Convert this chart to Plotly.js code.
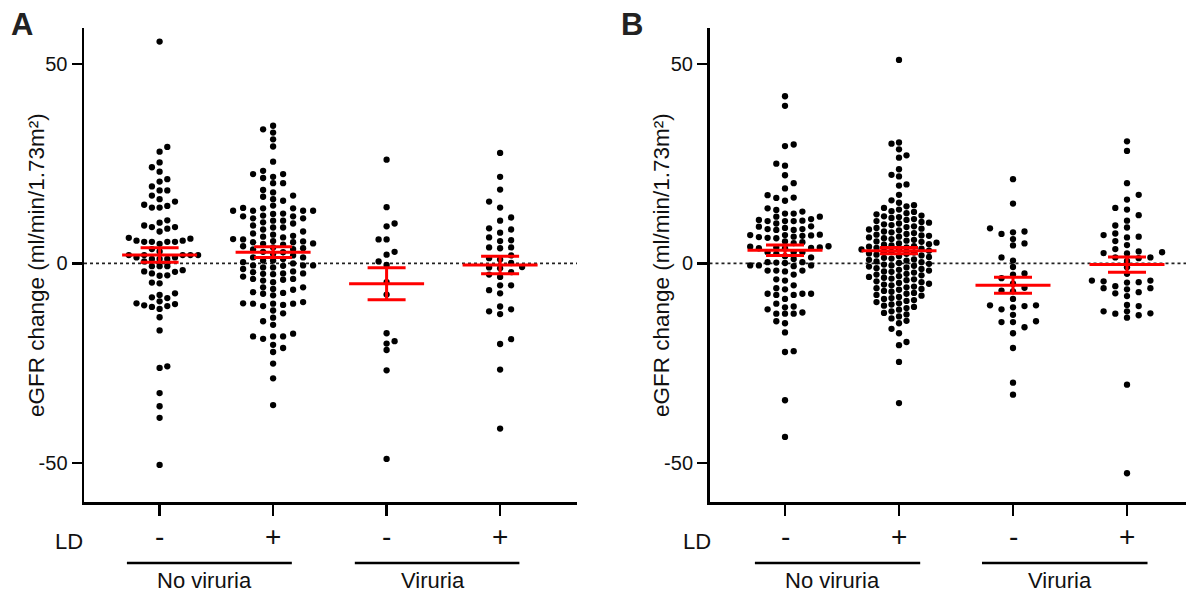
<!DOCTYPE html>
<html><head><meta charset="utf-8">
<script src="https://cdn.plot.ly/plotly-3.0.1.min.js"></script>
<style>html,body{margin:0;padding:0;background:#fff}#chart{width:1195px;height:596px}</style>
</head><body><div id="chart"></div>
<script>
// ---------- text ----------
const ldTicks = ['-', '+', '-', '+'];
const groupLabels = ['No viruria', 'Viruria'];
const panelLetters = ['A', 'B'];
const yTitle = 'eGFR change (ml/min/1.73m²)';
const yTickVals = [-50, 0, 50];
const yTickText = ['-50', '0', '50'];

// ---------- panel A data ----------
const A_noVir_LDneg = [55.6, 29.2, 28.0, 25.3, 24.1, 23.0, 21.1, 20.5, 19.3, 18.3, 18.3, 17.0, 16.1, 15.5, 14.7, 14.4, 14.0, 14.0,
  10.8, 10.2, 9.5, 9.1, 9.1, 8.7, 8.0, 6.4, 6.2, 5.7, 5.7, 5.4, 5.4, 5.4, 5.4, 4.9, 3.6, 3.0, 2.1, 2.1, 2.1, 2.1, 2.1,
  1.5, 1.5, 1.1, 1.1, 1.1, 0.5, -0.7, -0.7, -0.7, -1.7, -2.0, -2.1, -2.5, -3.0, -3.1, -4.8, -5.0, -7.5, -7.9, -8.5, -8.7,
  -9.5, -10.0, -10.2, -10.5, -10.7, -10.9, -11.4, -13.5, -16.8, -25.8, -26.2, -32.5, -35.8, -38.7, -50.5];
const A_noVir_LDpos = [13.2, 11.3, 6.0, 1.5, 0.0, -2.0, -3.9, -10.1,
  13.9, 12.4, 4.7, 2.9, -0.6, -2.2, -6.6, -10.1, -18.3,
  21.4, 17.0, 13.2, 11.8, 9.5, 8.0, 6.5, 5.3, 4.3, 2.8, 0.7, -1.0, -2.7, -4.7, -7.2, -10.1,
  33.6, 23.2, 21.7, 20.1, 18.4, 16.7, 13.2, 11.8, 10.0, 8.5, 6.7, 5.0, 3.6, 2.4, 0.7, -1.0, -2.6, -4.3, -7.4, -10.0, -12.5, -14.5, -18.3, -21.2,
  31.1, 29.3, 25.5, -25.1, -28.8, -35.5,
  34.5, 32.8, 22.4, 20.1, 15.7, 13.8, 12.0, 10.3, 9.0, 7.2, 5.5, 3.8, 2.0, -0.5, -2.5, -4.1, -6.0, -7.6, -9.7, -11.8, -13.6, -15.4, -18.9, -20.4, -22.2,
  22.4, 17.8, 16.1, 14.5, 12.5, 10.7, 9.0, 6.9, 5.3, 1.5, -0.5, -3.9, -6.4, -8.0, -10.7, -18.3,
  13.2, 11.3, 7.5, 6.1, 4.9, 3.5, 1.1, -0.5, -2.5, -6.0, -10.4, -17.6,
  13.8, 10.7, 5.6, 4.0, 0.3, -1.4, -3.3];
const A_vir_LDneg = [26.0, 14.1, 10.0, 9.3, 6.0, 6.0, 2.9, 2.2, 0.5, -0.4, -4.7, -7.8, -17.5, -19.5, -20.1, -21.7, -26.8, -49.0];
const A_vir_LDpos = [27.7, 21.7, 18.5, 15.5, 14.0, 11.5, 10.7, 8.8, 8.5, 7.7, 6.5, 5.8, 5.6, 4.0, 3.8, 4.0, 2.0, 1.0, 1.3, 0.1,
  -0.9, -1.0, -1.2, -2.2, -2.8, -3.4, -5.5, -5.5, -6.7, -7.5, -10.8, -11.5, -12.0, -12.7, -19.0, -20.2, -26.6, -41.4];
const A_mean = [2.1, 2.8, -5.1, -0.4];
const A_sem = [1.8, 1.35, 4.0, 2.2];

// ---------- panel B data ----------
const B_noVir_LDneg = [41.9, 39.5, 29.8, 29.4, 25.0, 24.5, 22.1, 20.1, 18.8, 17.1, 16.5, 16.4, 15.7, 13.8, 13.0, 13.4, 12.5, 12.5,
  11.7, 11.7, 10.6, 10.6, 11.1, 10.9, 10.7, 10.6, 10.0, 8.4, 8.6, 8.9, 9.2, 9.3, 8.6, 8.4, 7.1, 7.0, 6.6, 6.9, 7.1, 7.2, 6.4,
  6.7, 6.3, 5.5, 5.3, 5.1, 4.2, 4.3, 3.9, 3.8, 4.0, 3.8, 4.0, 2.8, 2.8, 2.8, 1.1, 1.5, 2.4, 1.8, 0.3, -0.7, -1.8, -0.5, 0.3,
  -0.5, 0.1, -0.5, 0.2, -2.0, -1.8, -2.8, -1.8, -4.3, -4.0, -5.5, -6.2, -6.5, -7.6, -7.6, -7.9, -7.9, -7.6, -8.9, -10.1,
  -10.8, -11.5, -11.0, -12.6, -12.6, -12.6, -12.3, -14.5, -15.0, -17.3, -22.2, -22.0, -34.3, -43.5];
const B_noVir_LDpos = [51.0, 30.3, 30.0, 28.6, 27.1, 26.5, 23.6, 22.2, 21.8, 19.8, 19.5, 17.2,
  15.8, 15.2, 14.6, 14.3, 13.9, 13.5, 13.1, 12.9, 12.6, 12.3, 12.0, 11.8, 11.6,
  11.4, 11.1, 10.9, 10.6, 10.4, 10.2, 10.0, 9.8, 9.6, 9.3, 9.1, 8.9, 8.7, 8.5,
  8.3, 8.0, 7.8, 7.6, 7.4, 7.2, 7.0, 6.9, 6.7, 6.5, 6.3, 6.1, 5.9, 5.7, 5.5,
  5.4, 5.2, 5.0, 4.8, 4.7, 4.5, 4.3, 4.2, 4.0, 3.9, 3.7, 3.5, 3.4, 3.2, 3.0, 2.9, 2.7, 2.5,
  2.4, 2.2, 2.0, 1.8, 1.6, 1.4, 1.2, 1.0, 0.9, 0.7, 0.5, 0.3, 0.1, -0.1, -0.3, -0.5,
  -0.6, -0.8, -1.0, -1.2, -1.4, -1.6, -1.8, -2.0, -2.1, -2.3, -2.6, -2.8, -3.0, -3.2, -3.4,
  -3.6, -3.8, -4.0, -4.2, -4.5, -4.7, -4.9, -5.1, -5.3, -5.5, -5.8, -6.0, -6.2, -6.4,
  -6.6, -6.9, -7.1, -7.4, -7.6, -7.9, -8.1, -8.4, -8.7, -8.9, -9.2, -9.4,
  -9.7, -10.0, -10.3, -10.6, -10.9, -11.2, -11.6, -12.0, -12.4, -12.8, -13.3, -13.8, -14.4, -15.0,
  -16.4, -17.5, -19.7, -20.5, -24.7, -35.0];
const B_vir_LDneg = [21.1, 15.0, 8.8, 7.8, 8.0, 7.4, 6.1, 5.0, 4.5, 1.5, 0.7, -0.9, -2.5, -2.8, -3.7, -5.1, -6.1, -6.8, -7.0,
  -8.9, -10.5, -10.7, -10.5, -11.0, -11.5, -12.9, -14.5, -14.7, -14.7, -16.0, -17.5, -21.2, -29.9, -32.9];
const B_vir_LDpos = [30.6, 28.2, 20.1, 17.2, 16.0, 13.9, 13.5, 12.1, 10.7, 9.5, 9.0, 7.5, 7.1, 6.7, 6.5, 5.6, 4.6, 3.6, 3.0, 2.8,
  2.6, 2.5, 1.5, 1.5, 1.3, 0.6, -0.96, -2.6, -4.3, -4.5, -4.3, -4.8, -4.7, -5.7, -6.2, -6.2, -6.5, -7.2, -7.5, -8.2,
  -10.4, -10.7, -12.0, -12.0, -12.5, -12.6, -13.0, -13.6, -30.4, -52.6];
const B_mean = [3.3, 3.2, -5.5, -0.3];
const B_sem = [1.3, 0.8, 2.0, 1.9];

// ---------- layout helpers ----------
const W = 1195, H = 596;
const px = x => x / W, py = y => (H - y) / H;
const FONT = 'Arial, "Liberation Sans", Helvetica, sans-serif';
const RED = 'rgb(255,0,0)';

const panels = [
  { groups: [A_noVir_LDneg, A_noVir_LDpos, A_vir_LDneg, A_vir_LDpos], mean: A_mean, sem: A_sem,
    xpix: [84, 577], cat0: 159.6, step: 113.5, colPx: [7.7, 10, 8, 11], xa: 'x', ya: 'y',
    letterX: 22, titleX: 36, ldX: 69, lines: [[-0.288, 1.165], [1.72, 3.17]] },
  { groups: [B_noVir_LDneg, B_noVir_LDpos, B_vir_LDneg, B_vir_LDpos], mean: B_mean, sem: B_sem,
    xpix: [709.5, 1186], cat0: 785, step: 114, colPx: [8.7, 7.5, 11.5, 11.7], xa: 'x2', ya: 'y2',
    letterX: 632, titleX: 661, ldX: 697, lines: [[-0.264, 1.186], [1.728, 3.18]] }
];

// discrete-column swarm: x offsets computed from values
function swarm(vals, center, colW, dotH) {
  const order = vals.map((v, i) => i).sort((a, b) => vals[a] - vals[b]);
  const cols = {};
  const xs = new Array(vals.length);
  let flip = 1;
  for (const i of order) {
    const v = vals[i];
    for (let k = 0; k < 80; k++) {
      const slot = k === 0 ? 0 : (k % 2 === 1 ? flip * (k + 1) / 2 : -flip * k / 2);
      const arr = cols[slot] || (cols[slot] = []);
      if (arr.every(y => Math.abs(y - v) >= dotH)) {
        arr.push(v); xs[i] = center + slot * colW;
        if (k > 0) flip = -flip;
        break;
      }
    }
  }
  return xs;
}

const yRange = [-59.8, 59.0];
const yDomain = [py(502), py(28)];
const traces = [], annotations = [], shapes = [];
const layout = {
  width: W, height: H, margin: { l: 0, r: 0, t: 0, b: 0 },
  paper_bgcolor: '#fff', plot_bgcolor: '#fff', showlegend: false,
  font: { family: FONT, color: '#111', size: 20 }
};

panels.forEach((p, pi) => {
  const rng = [(p.xpix[0] - p.cat0) / p.step, (p.xpix[1] - p.cat0) / p.step];
  const sfx = pi === 0 ? '' : '2';
  layout['xaxis' + sfx] = {
    domain: [px(p.xpix[0]), px(p.xpix[1])], range: rng, anchor: 'y' + sfx,
    showline: true, linecolor: '#000', linewidth: 2.5, zeroline: false, showgrid: false,
    tickmode: 'array', tickvals: [0, 1, 2, 3], ticks: 'outside', ticklen: 11, tickwidth: 2.5, tickcolor: '#000',
    showticklabels: false, fixedrange: true
  };
  layout['yaxis' + sfx] = {
    domain: yDomain, range: yRange, anchor: 'x' + sfx,
    showline: true, linecolor: '#000', linewidth: 2.5, zeroline: false, showgrid: false,
    tickmode: 'array', tickvals: yTickVals, ticktext: yTickText, ticks: 'outside', ticklen: 10, tickwidth: 2.5,
    tickcolor: '#000', tickfont: { family: FONT, size: 20, color: '#111' }, fixedrange: true
  };
  // zero dotted line
  shapes.push({ type: 'line', xref: p.xa + ' domain', yref: p.ya, x0: 0, x1: 1, y0: 0, y1: 0,
    line: { color: '#222', width: 1.7, dash: 'dot' }, layer: 'below' });

  // dots
  p.groups.forEach((vals, gi) => {
    const colW = p.colPx[gi] / p.step;
    traces.push({
      type: 'scatter', mode: 'markers', xaxis: p.xa, yaxis: p.ya,
      x: swarm(vals, gi, colW, 1.55), y: vals,
      marker: { size: 6.3, color: '#000' }, cliponaxis: false, hoverinfo: 'y'
    });
  });
  // mean lines
  const half = 37.5 / p.step;
  const mx = [], my = [];
  p.mean.forEach((m, gi) => { mx.push(gi - half, gi + half, null); my.push(m, m, null); });
  traces.push({ type: 'scatter', mode: 'lines', xaxis: p.xa, yaxis: p.ya, x: mx, y: my,
    line: { color: RED, width: 3 }, hoverinfo: 'skip' });
  // SEM error bars
  traces.push({ type: 'scatter', mode: 'markers', xaxis: p.xa, yaxis: p.ya, x: [0, 1, 2, 3], y: p.mean,
    marker: { size: 1, color: 'rgba(0,0,0,0)' },
    error_y: { type: 'data', array: p.sem, visible: true, color: RED, thickness: 3, width: 19 }, hoverinfo: 'skip' });

  // panel letter
  annotations.push({ xref: 'paper', yref: 'paper', x: px(p.letterX), y: py(24), text: '<b>' + panelLetters[pi] + '</b>',
    showarrow: false, xanchor: 'center', yanchor: 'middle', font: { family: FONT, size: 31, color: '#222' } });
  // y title
  annotations.push({ xref: 'paper', yref: 'paper', x: px(p.titleX), y: py(265), text: yTitle, textangle: -90,
    showarrow: false, xanchor: 'center', yanchor: 'middle', font: { family: FONT, size: 22.5, color: '#111' } });
  // LD label
  annotations.push({ xref: 'paper', yref: 'paper', x: px(p.ldX), y: py(541), text: 'LD',
    showarrow: false, xanchor: 'center', yanchor: 'middle', font: { family: FONT, size: 22, color: '#111' } });
  // +/- labels
  ldTicks.forEach((t, gi) => {
    annotations.push({ xref: p.xa, yref: 'paper', x: gi, y: py(536), text: t, showarrow: false,
      xanchor: 'center', yanchor: 'middle', font: { family: FONT, size: 28, color: '#111' } });
  });
  // group lines and labels
  p.lines.forEach((ln, li) => {
    shapes.push({ type: 'line', xref: p.xa, yref: 'paper', x0: ln[0], x1: ln[1], y0: py(563), y1: py(563),
      line: { color: '#000', width: 2.5 } });
    annotations.push({ xref: p.xa, yref: 'paper', x: (ln[0] + ln[1]) / 2 - 0.04, y: py(580), text: groupLabels[li],
      showarrow: false, xanchor: 'center', yanchor: 'middle', font: { family: FONT, size: 22, color: '#111' } });
  });
});

layout.shapes = shapes;
layout.annotations = annotations;
Plotly.newPlot('chart', traces, layout, { displayModeBar: false, staticPlot: true });
</script>
</body></html>
